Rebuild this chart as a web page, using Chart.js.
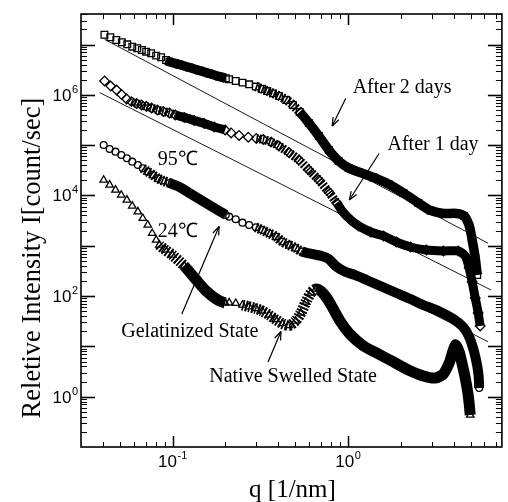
<!DOCTYPE html>
<html>
<head>
<meta charset="utf-8">
<script src="https://cdn.jsdelivr.net/npm/chart.js@4.4.0/dist/chart.umd.min.js"></script>
<style>
  html, body { margin: 0; padding: 0; background: #fff; }
  #wrap { position: relative; width: 508px; height: 502px; }
</style>
</head>
<body>
<div id="wrap"><canvas id="saxs-chart" width="508" height="502"></canvas></div>
<script>
// Data (q in 1/nm, intensity in count/sec)
const qAfter2Days = [0.0408,0.0441,0.0477,0.0513,0.0551,0.0588,0.0628,0.0667,0.0706,0.0754,0.0805,0.0859,0.0917,0.0958,0.109,0.1245,0.142,0.1616,0.184,0.201,0.210,0.229,0.250,0.273,0.298,0.3245,0.3466,0.373,0.404,0.4445,0.485,0.530,0.598,0.682,0.777,0.885,1.009,1.150,1.40,1.70,2.073,2.52,2.95,3.50,4.15,4.60,4.92,5.11,5.32,5.46];
const iAfter2Days = [1.57e7,1.40e7,1.23e7,1.11e7,1.01e7,9.08e6,8.44e6,7.81e6,7.22e6,6.71e6,6.02e6,5.59e6,4.94e6,4.57e6,4.02e6,3.51e6,3.05e6,2.66e6,2.32e6,2.14e6,2.04e6,1.89e6,1.75e6,1.62e6,1.46e6,1.31e6,1.19e6,1.07e6,9.51e5,7.92e5,6.30e5,4.57e5,2.76e5,1.52e5,8.03e4,4.85e4,3.52e4,2.93e4,2.28e4,1.69e4,1.12e4,7.10e3,5.03e3,4.39e3,4.39e3,3.91e3,2.48e3,1.30e3,572,263];

const qAfter1Day = [0.0409,0.0443,0.0479,0.0511,0.0546,0.0582,0.0622,0.0664,0.0709,0.0757,0.0818,0.0885,0.0958,0.1036,0.1165,0.1327,0.1514,0.1726,0.1993,0.2156,0.2393,0.270,0.300,0.3285,0.364,0.4037,0.4603,0.5248,0.598,0.682,0.777,0.863,0.945,1.036,1.150,1.345,1.595,1.891,2.272,2.80,3.50,4.256,4.665,4.915,5.11,5.32,5.53,5.675];
const iAfter1Day = [1.89e6,1.50e6,1.25e6,1.02e6,8.29e5,7.33e5,6.75e5,6.30e5,5.88e5,5.49e5,5.01e5,4.68e5,4.37e5,3.98e5,3.56e5,3.10e5,2.70e5,2.30e5,2.00e5,1.75e5,1.56e5,1.44e5,1.36e5,1.30e5,1.16e5,9.64e4,7.16e4,5.08e4,3.21e4,2.03e4,1.17e4,7.10e3,4.49e3,3.26e3,2.48e3,1.88e3,1.57e3,1.19e3,946,825,788,788,627,362,191,91.7,46.1,25.4];

const q95C = [0.0404,0.0437,0.0472,0.0509,0.0548,0.0588,0.0633,0.0675,0.0721,0.0770,0.0822,0.0874,0.0958,0.1092,0.1244,0.1418,0.1616,0.1842,0.201,0.210,0.229,0.250,0.273,0.298,0.3245,0.3543,0.3869,0.4217,0.4603,0.5025,0.5455,0.622,0.709,0.777,0.851,0.958,1.092,1.277,1.554,1.891,2.272,2.69,3.276,3.987,4.54,4.915,5.246,5.46,5.567,5.60];
const i95C = [1.01e5,8.41e4,7.43e4,6.38e4,5.49e4,4.70e4,4.04e4,3.47e4,2.97e4,2.56e4,2.20e4,1.99e4,1.77e4,1.48e4,1.12e4,8.52e3,6.47e3,4.92e3,4.10e3,3.79e3,3.36e3,2.88e3,2.59e3,2.33e3,2.06e3,1.77e3,1.53e3,1.21e3,1.04e3,904,771,687,627,547,397,308,263,209,155,115,87.6,66.5,50.6,35.1,24.3,15.4,7.74,4.08,2.46,1.49];

const q24C = [0.0404,0.0437,0.0472,0.0509,0.0548,0.0588,0.0633,0.0675,0.0721,0.0764,0.0805,0.0840,0.0909,0.0996,0.1165,0.1364,0.1554,0.177,0.1993,0.210,0.229,0.250,0.273,0.298,0.3245,0.3543,0.3869,0.4217,0.4603,0.5025,0.5384,0.575,0.614,0.655,0.700,0.757,0.819,0.909,1.036,1.228,1.494,1.819,2.213,2.69,3.15,3.50,3.78,3.99,4.12,4.31,4.48,4.665,4.82,4.915,4.98];
const i24C = [2.03e4,1.62e4,1.29e4,1.02e4,8.14e3,6.18e3,4.76e3,3.52e3,2.59e3,1.77e3,1.30e3,1.04e3,825,656,397,209,126,87.6,72.9,73.9,71.9,66.5,61.5,56.7,50.6,42.1,34.3,28.5,26.0,32.0,46.1,76.3,115,138,126,91.7,58.0,30.5,16.9,10.2,7.06,4.90,3.40,2.58,2.35,2.83,4.68,8.48,10.7,7.74,4.47,2.35,1.24,0.716,0.433];

// Power-law guide lines (end points)
const fitQ = [[0.0409, 6.30], [0.0383, 6.55], [0.829, 6.30]];
const fitI = [[1.27e7, 1.12e3], [1.11e6, 132], [431, 12.4]];

// Axis ticks that carry a label
const xLabelValues = [0.1, 1];
const yLabelValues = [1, 100, 1e4, 1e6];

// Annotations (text anchored at left baseline)
const noteText = ['After 2 days', 'After 1 day', '95\u2103', '24\u2103', 'Gelatinized State', 'Native Swelled State'];
const noteQ = [1.063, 1.68, 0.0822, 0.0822, 0.0509, 0.1616];
const noteI = [1.08e6, 8.03e4, 4.04e4, 1.52e3, 15.4, 1.96];
const arrowFromQ = [0.970, 1.504, 0.1128, 0.350];
const arrowFromI = [8.48e5, 6.84e4, 44.1, 4.90];
const arrowToQ = [0.813, 1.018, 0.184, 0.4146];
const arrowToI = [2.41e5, 8.14e3, 2.42e3, 19.8];

// Where the markers merge into a band (q ranges), style only
const bandAfter2 = [[0.092, 0.203, 'solid'], [0.30, 0.54, 'hatch'], [0.54, 10, 'solid']];
const bandAfter1 = [[0.058, 0.10, 'hatch'], [0.10, 0.203, 'solid'], [0.31, 0.87, 'hatch'], [0.87, 10, 'solid']];
const band95 = [[0.068, 0.093, 'hatch'], [0.093, 0.203, 'solid'], [0.30, 0.55, 'hatch'], [0.55, 10, 'solid']];
const band24 = [[0.083, 0.12, 'hatch'], [0.12, 0.203, 'solid'], [0.26, 0.65, 'hatch'], [0.65, 10, 'solid']];

function toPoints(qs, is) {
    return qs.map((q, k) => ({ x: q, y: is[k] }));
}

function bandKind(ctx, bands) {
    const mid = Math.sqrt(ctx.p0.parsed.x * ctx.p1.parsed.x);
    for (const b of bands) {
        if (mid >= b[0] && mid < b[1]) return b[2];
    }
    return 'none';
}

function seriesDataset(qs, is, bands, style, radius, width) {
    return {
        data: toPoints(qs, is),
        showLine: true,
        borderColor: '#000',
        borderWidth: width,
        tension: 0.25,
        pointStyle: style,
        pointRadius: radius,
        pointBorderWidth: 1.3,
        pointBorderColor: '#000',
        pointBackgroundColor: 'rgba(0,0,0,0)',
        order: 1,
        segment: {
            borderColor: c => bandKind(c, bands) === 'none' ? 'rgba(0,0,0,0)' : '#000',
            borderDash: c => bandKind(c, bands) === 'hatch' ? [1.8, 1.4] : []
        }
    };
}

function fitDataset(k) {
    return {
        data: toPoints(fitQ[k], fitI[k]),
        showLine: true,
        borderColor: '#000',
        borderWidth: 0.9,
        pointRadius: 0,
        order: 5
    };
}

function drawLine(ctx, x0, y0, x1, y1) {
    ctx.beginPath();
    ctx.moveTo(x0, y0);
    ctx.lineTo(x1, y1);
    ctx.stroke();
}

const baseFont = '17px "Liberation Sans", Arial, sans-serif';
const expFont = '11px "Liberation Sans", Arial, sans-serif';

function drawPower(ctx, exp, left, baseline) {
    ctx.font = baseFont;
    ctx.fillText('10', left, baseline);
    const w = ctx.measureText('10').width;
    ctx.font = expFont;
    ctx.fillText(String(exp), left + w + 0.5, baseline - 8);
}

function powerWidth(ctx, exp) {
    ctx.font = baseFont;
    const w = ctx.measureText('10').width;
    ctx.font = expFont;
    return w + 0.5 + ctx.measureText(String(exp)).width;
}

// Frame, inward ticks on all sides, tick labels, titles and annotations
const framePlugin = {
    id: 'frame',
    afterDatasetsDraw(chart) {
        const { ctx, chartArea: a, scales: { x, y } } = chart;
        ctx.save();
        ctx.strokeStyle = '#000';
        ctx.fillStyle = '#000';

        ctx.lineWidth = 1;
        for (let e = -2; e <= 1; e++) {
            for (let m = 1; m <= 9; m++) {
                const v = m * Math.pow(10, e);
                if (v <= x.min * 1.001 || v >= x.max) continue;
                const px = Math.round(x.getPixelForValue(v)) + 0.5;
                const len = m === 1 ? 11 : 5;
                ctx.lineWidth = m === 1 ? 1.5 : 1;
                drawLine(ctx, px, a.bottom, px, a.bottom - len);
                drawLine(ctx, px, a.top, px, a.top + len);
            }
        }
        for (let e = -1; e <= 7; e++) {
            for (let m = 1; m <= 9; m++) {
                const v = m * Math.pow(10, e);
                if (v <= y.min * 1.001 || v >= y.max) continue;
                const py = Math.round(y.getPixelForValue(v)) + 0.5;
                const len = m === 1 ? 14 : 6;
                ctx.lineWidth = m === 1 ? 1.6 : 1;
                drawLine(ctx, a.left, py, a.left + len, py);
                drawLine(ctx, a.right, py, a.right - len, py);
            }
        }

        ctx.lineWidth = 1.6;
        ctx.strokeRect(a.left, a.top, a.right - a.left, a.bottom - a.top);

        // tick labels
        ctx.textAlign = 'left';
        ctx.textBaseline = 'alphabetic';
        xLabelValues.forEach(v => {
            const exp = Math.round(Math.log10(v));
            const w = powerWidth(ctx, exp);
            const px = x.getPixelForValue(v);
            drawPower(ctx, exp, px - w / 2, a.bottom + 19.5);
        });
        yLabelValues.forEach(v => {
            const exp = Math.round(Math.log10(v));
            const w = powerWidth(ctx, exp);
            const py = y.getPixelForValue(v);
            drawPower(ctx, exp, a.left - 3 - w, py + 6);
        });

        // axis titles
        ctx.font = '25px "Liberation Serif", "Times New Roman", serif';
        ctx.textAlign = 'center';
        ctx.fillText('q [1/nm]', (a.left + a.right) / 2 + 1, 497);
        ctx.save();
        ctx.translate(40, 258);
        ctx.rotate(-Math.PI / 2);
        ctx.font = '26.5px "Liberation Serif", "Times New Roman", serif';
        ctx.fillText('Reletive Intensity I[count/sec]', 0, 0);
        ctx.restore();

        // annotations
        ctx.textAlign = 'left';
        ctx.font = '20px "Liberation Serif", "Times New Roman", serif';
        noteText.forEach((t, k) => {
            ctx.fillText(t, x.getPixelForValue(noteQ[k]), y.getPixelForValue(noteI[k]));
        });
        ctx.lineWidth = 1.2;
        arrowFromQ.forEach((q, k) => {
            const x0 = x.getPixelForValue(q);
            const y0 = y.getPixelForValue(arrowFromI[k]);
            const x1 = x.getPixelForValue(arrowToQ[k]);
            const y1 = y.getPixelForValue(arrowToI[k]);
            drawLine(ctx, x0, y0, x1, y1);
            const ang = Math.atan2(y0 - y1, x0 - x1);
            const head = 9, spread = 0.36;
            drawLine(ctx, x1, y1, x1 + head * Math.cos(ang + spread), y1 + head * Math.sin(ang + spread));
            drawLine(ctx, x1, y1, x1 + head * Math.cos(ang - spread), y1 + head * Math.sin(ang - spread));
        });
        ctx.restore();
    }
};

function initChart() {
    const canvas = document.getElementById('saxs-chart');
    new Chart(canvas, {
        type: 'scatter',
        data: {
            datasets: [
                seriesDataset(qAfter2Days, iAfter2Days, bandAfter2, 'rect', 4.7, 9.5),
                seriesDataset(qAfter1Day, iAfter1Day, bandAfter1, 'rectRot', 4.8, 9),
                seriesDataset(q95C, i95C, band95, 'circle', 3.4, 10),
                seriesDataset(q24C, i24C, band24, 'triangle', 4.3, 11),
                fitDataset(0),
                fitDataset(1),
                fitDataset(2)
            ]
        },
        options: {
            responsive: false,
            animation: false,
            events: [],
            layout: { padding: { left: 81, right: 4, top: 14, bottom: 55 } },
            scales: {
                x: { type: 'logarithmic', min: 0.03, max: 7.55, display: false },
                y: { type: 'logarithmic', min: 0.1, max: 4.05e7, display: false }
            },
            plugins: {
                legend: { display: false },
                tooltip: { enabled: false }
            }
        },
        plugins: [framePlugin]
    });
}

document.addEventListener('DOMContentLoaded', initChart);
</script>
</body>
</html>
